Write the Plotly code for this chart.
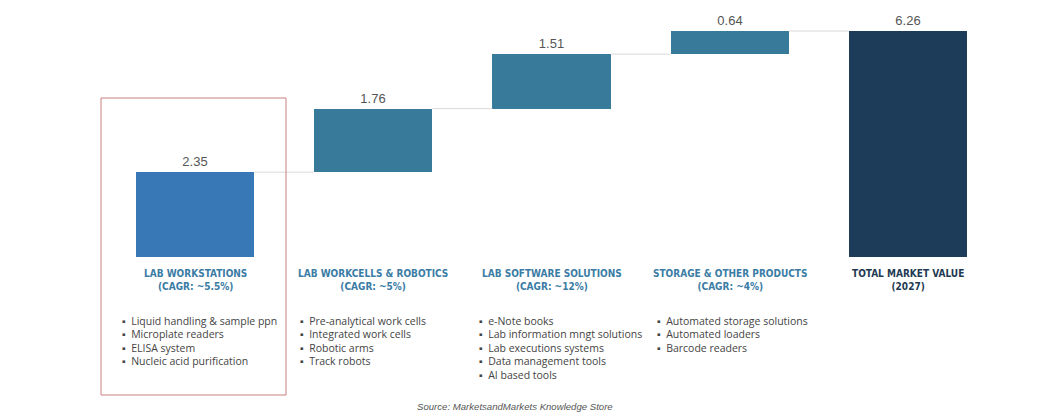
import plotly.graph_objects as go

categories = ["LAB WORKSTATIONS<br>(CAGR: ~5.5%)",
              "LAB WORKCELLS & ROBOTICS<br>(CAGR: ~5%)",
              "LAB SOFTWARE SOLUTIONS<br>(CAGR: ~12%)",
              "STORAGE & OTHER PRODUCTS<br>(CAGR: ~4%)",
              "TOTAL MARKET VALUE<br>(2027)"]
values = [2.35, 1.76, 1.51, 0.64, 6.26]
measures = ["relative", "relative", "relative", "relative", "total"]
bullets = [
    ["Liquid handling & sample ppn", "Microplate readers", "ELISA system", "Nucleic acid purification"],
    ["Pre-analytical work cells", "Integrated work cells", "Robotic arms", "Track robots"],
    ["e-Note books", "Lab information mngt solutions", "Lab executions systems", "Data management tools", "AI based tools"],
    ["Automated storage solutions", "Automated loaders", "Barcode readers"],
    [],
]
bar_colors = ["#3878b7", "#377a9a", "#377a9a", "#377a9a", "#1d3c5a"]
label_colors = ["#3a7ca5", "#3a7ca5", "#3a7ca5", "#3a7ca5", "#1e3a52"]
source = "Source: MarketsandMarkets Knowledge Store"

# compute bases
bases, tops = [], []
run = 0.0
for v, m in zip(values, measures):
    if m == "total":
        bases.append(0.0)
        tops.append(v)
    else:
        bases.append(run)
        run += v
        tops.append(run)
heights = [t - b for t, b in zip(tops, bases)]

xs = list(range(len(values)))
W = 0.663

fig = go.Figure()
for i in range(len(values) - 1):
    fig.add_trace(go.Scatter(x=[xs[i] + W / 2, xs[i + 1] - W / 2], y=[tops[i], tops[i]],
                             mode="lines", line=dict(color="#d9d9d9", width=1),
                             hoverinfo="skip", showlegend=False))
fig.add_trace(go.Bar(x=xs, y=heights, base=bases, width=W,
                     marker=dict(color=bar_colors, line=dict(width=0)),
                     text=[f"{v:.2f}" for v in values], textposition="outside",
                     textfont=dict(family="Liberation Sans, Arial, sans-serif", size=13, color="#555555"),
                     cliponaxis=False, showlegend=False))

# page offset of the figure inside the browser window
OFF = 8
FW, FH = 1062 - OFF, 417 - OFF
# plot area in screenshot pixels
X0, X1, Y0, Y1 = 106, 997, 4, 257
L, R = X0 - OFF, FW - (X1 - OFF)
T, B = max(Y0 - OFF, 0), FH - (Y1 - OFF)
Ytop = T + OFF
H = Y1 - Ytop
Wd = X1 - X0
yr_top = 6.26 * H / 226.0

def py(p):
    return (Y1 - p) / H
def px(p):
    return (p - X0) / Wd

annotations = []
for i, c in enumerate(categories):
    annotations.append(dict(x=xs[i], xref="x", y=py(266), yref="paper", yanchor="top",
                            text=f"<b>{c}</b>", showarrow=False, align="center",
                            font=dict(family="DejaVu Sans Condensed, Roboto, sans-serif",
                                      size=10, color=label_colors[i])))
    for j, b in enumerate(bullets[i]):
        annotations.append(dict(x=xs[i] - 0.42, xref="x", xanchor="left",
                                y=py(321 + 13.4 * j), yref="paper", yanchor="middle",
                                text="▪  " + b, showarrow=False, align="left",
                                font=dict(family="Open Sans, sans-serif", size=10.5, color="#444444")))
annotations.append(dict(x=px(515), xref="paper", y=py(406), yref="paper", yanchor="middle",
                        text=f"<i>{source}</i>", showarrow=False,
                        font=dict(family="Liberation Sans, Arial, sans-serif", size=9.6, color="#555555")))

fig.update_layout(
    width=FW, height=FH,
    margin=dict(l=L, r=R, t=T, b=B, pad=0),
    paper_bgcolor="white", plot_bgcolor="white",
    xaxis=dict(range=[-0.5, 4.5], visible=False, fixedrange=True),
    yaxis=dict(range=[0, yr_top], visible=False),
    annotations=annotations,
    shapes=[dict(type="rect", xref="paper", yref="paper",
                 x0=px(101), x1=px(286), y0=py(395), y1=py(98),
                 line=dict(color="#c88080", width=1))],
    bargap=0,
)

fig.write_html("out.html")
